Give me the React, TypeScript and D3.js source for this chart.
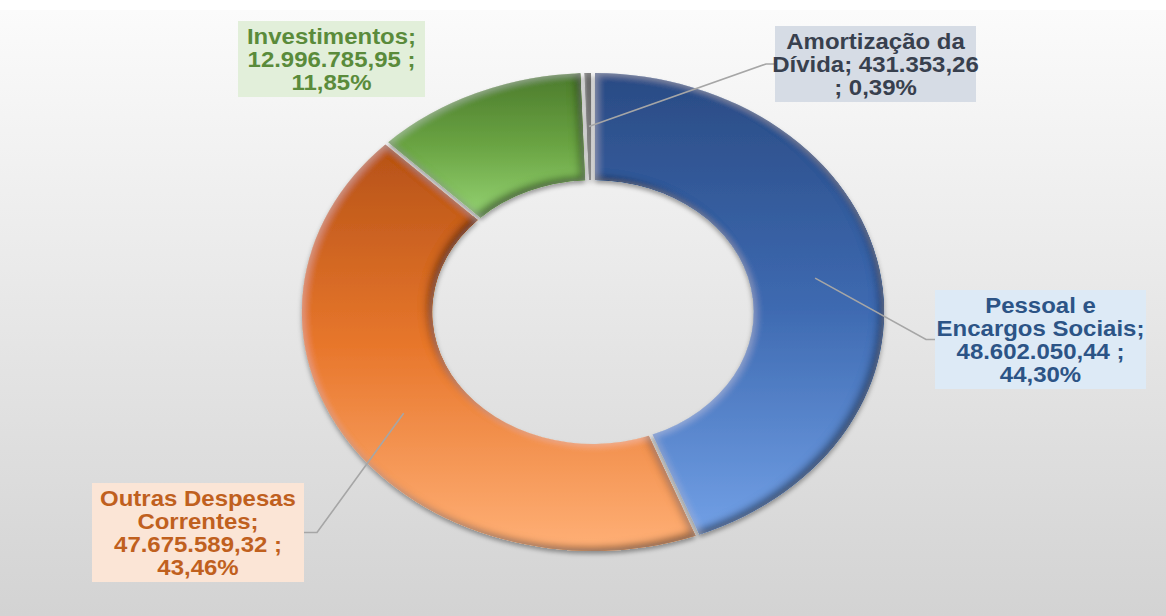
import * as d3 from "d3";

// valores por categoria de despesa
const categories = [
  "Pessoal e Encargos Sociais",
  "Outras Despesas Correntes",
  "Investimentos",
  "Amortização da Dívida",
];
const values = [48602050.44, 47675589.32, 12996785.95, 431353.26];

// linhas de cada rótulo ({v} = valor, {p} = percentual)
const labelTemplates = [
  ["Pessoal e", "Encargos Sociais;", "{v} ;", "{p}"],
  ["Outras Despesas", "Correntes;", "{v} ;", "{p}"],
  ["Investimentos;", "{v} ;", "{p}"],
  ["Amortização da", "Dívida; {v}", "; {p}"],
];

const sliceStops = [
  ["#2a4b84", "#3d69b0", "#72a0e6"],
  ["#b65217", "#e8772c", "#ffb077"],
  ["#4c7b2c", "#6aa443", "#95d373"],
  ["#5a5a5a", "#6e6e6e", "#8a8a8a"],
];
const textColors = ["#2c5486", "#c0601e", "#5a8b3b", "#38404e"];
const boxColors = ["#ddeaf6", "#fbe5d6", "#e2efda", "#d6dce5"];

// caixas dos rótulos: [x, y, largura]
const boxes = [
  [935, 290, 211],
  [92, 483, 212],
  [238, 21, 187],
  [775, 26, 201],
];

const W = 1166;
const H = 616;
const cx = 593;
const cy = 312;
const sx = 1.218;
const rOuter = 239;
const rInner = 132;
const lineH = 23;

const ptBR = d3.formatLocale({
  decimal: ",",
  thousands: ".",
  grouping: [3],
  currency: ["R$", ""],
});
const fmtV = ptBR.format(",.2f");
const fmtP = ptBR.format(".2%");

export default function App() {
  const total = d3.sum(values);
  const pie = d3
    .pie<number>()
    .sort(null)
    .value((d) => d)
    .padAngle(0.012);
  const arcs = pie(values);
  const arc = d3.arc<d3.PieArcDatum<number>>().innerRadius(rInner).outerRadius(rOuter);

  return (
    <svg
      width={W}
      height={H}
      style={{ position: "absolute", left: 0, top: 0, display: "block" }}
      fontFamily="'Liberation Sans', Arial, sans-serif"
    >
      <defs>
        <linearGradient id="bg" x1="0" y1="0" x2="0" y2="1">
          <stop offset="0" stopColor="#fbfbfb" />
          <stop offset="1" stopColor="#d3d3d3" />
        </linearGradient>
        {sliceStops.map((s, i) => (
          <linearGradient key={i} id={`g${i}`} x1="0" y1="0" x2="0" y2="1">
            <stop offset="0" stopColor={s[0]} />
            <stop offset="0.5" stopColor={s[1]} />
            <stop offset="1" stopColor={s[2]} />
          </linearGradient>
        ))}
        <filter id="bevel" x="-10%" y="-10%" width="120%" height="120%">
          <feGaussianBlur in="SourceAlpha" stdDeviation="3.5" result="b" />
          <feOffset in="b" dx="-4" dy="-4" result="bd" />
          <feComposite in="SourceAlpha" in2="bd" operator="arithmetic" k2="1" k3="-1" result="edgeD" />
          <feFlood floodColor="#000" floodOpacity="0.75" />
          <feComposite in2="edgeD" operator="in" result="dark" />
          <feOffset in="b" dx="2" dy="2" result="bl" />
          <feComposite in="SourceAlpha" in2="bl" operator="arithmetic" k2="1" k3="-1" result="edgeL" />
          <feFlood floodColor="#fff" floodOpacity="0.25" />
          <feComposite in2="edgeL" operator="in" result="light" />
          <feMerge>
            <feMergeNode in="SourceGraphic" />
            <feMergeNode in="dark" />
            <feMergeNode in="light" />
          </feMerge>
        </filter>
        <filter id="shadow" x="-10%" y="-10%" width="120%" height="120%">
          <feDropShadow dx="0" dy="3" stdDeviation="2" floodColor="#000" floodOpacity="0.35" />
        </filter>
      </defs>

      <rect width={W} height={H} fill="#fff" />
      <rect x={0} y={10} width={W} height={H - 10} fill="url(#bg)" />

      <g transform={`translate(${cx},${cy}) scale(${sx},1)`} filter="url(#shadow)">
        {arcs.map((a, i) => (
          <path key={i} d={arc(a) || ""} fill={`url(#g${i})`} filter="url(#bevel)" />
        ))}
      </g>

      {/* linhas de chamada */}
      {arcs.map((a, i) => {
        if (i === 2) return null;
        const c = arc.centroid(a);
        const px = cx + c[0] * sx;
        const py = cy + c[1];
        const [bx, by, bw] = boxes[i];
        const bh = labelTemplates[i].length * lineH + 7;
        const left = bx > px;
        const ax = left ? bx : bx + bw;
        const ay = by + bh / 2;
        const ex = left ? ax - 9 : ax + 13;
        return (
          <polyline
            key={i}
            points={`${px},${py} ${ex},${ay} ${ax},${ay}`}
            fill="none"
            stroke="#a6a6a6"
            strokeWidth={1.6}
          />
        );
      })}

      {/* rótulos */}
      {labelTemplates.map((tpl, i) => {
        const [bx, by, bw] = boxes[i];
        const bh = tpl.length * lineH + 7;
        const lines = tpl.map((t) =>
          t.replace("{v}", fmtV(values[i])).replace("{p}", fmtP(values[i] / total))
        );
        const tx = bx + bw / 2;
        return (
          <g key={i}>
            <rect x={bx} y={by} width={bw} height={bh} fill={boxColors[i]} />
            {lines.map((l, k) => (
              <text
                key={k}
                transform={`translate(${tx},${by + 23 + k * lineH}) scale(1.09,1)`}
                textAnchor="middle"
                fontSize={22}
                fontWeight="bold"
                fill={textColors[i]}
              >
                {l}
              </text>
            ))}
          </g>
        );
      })}
    </svg>
  );
}
